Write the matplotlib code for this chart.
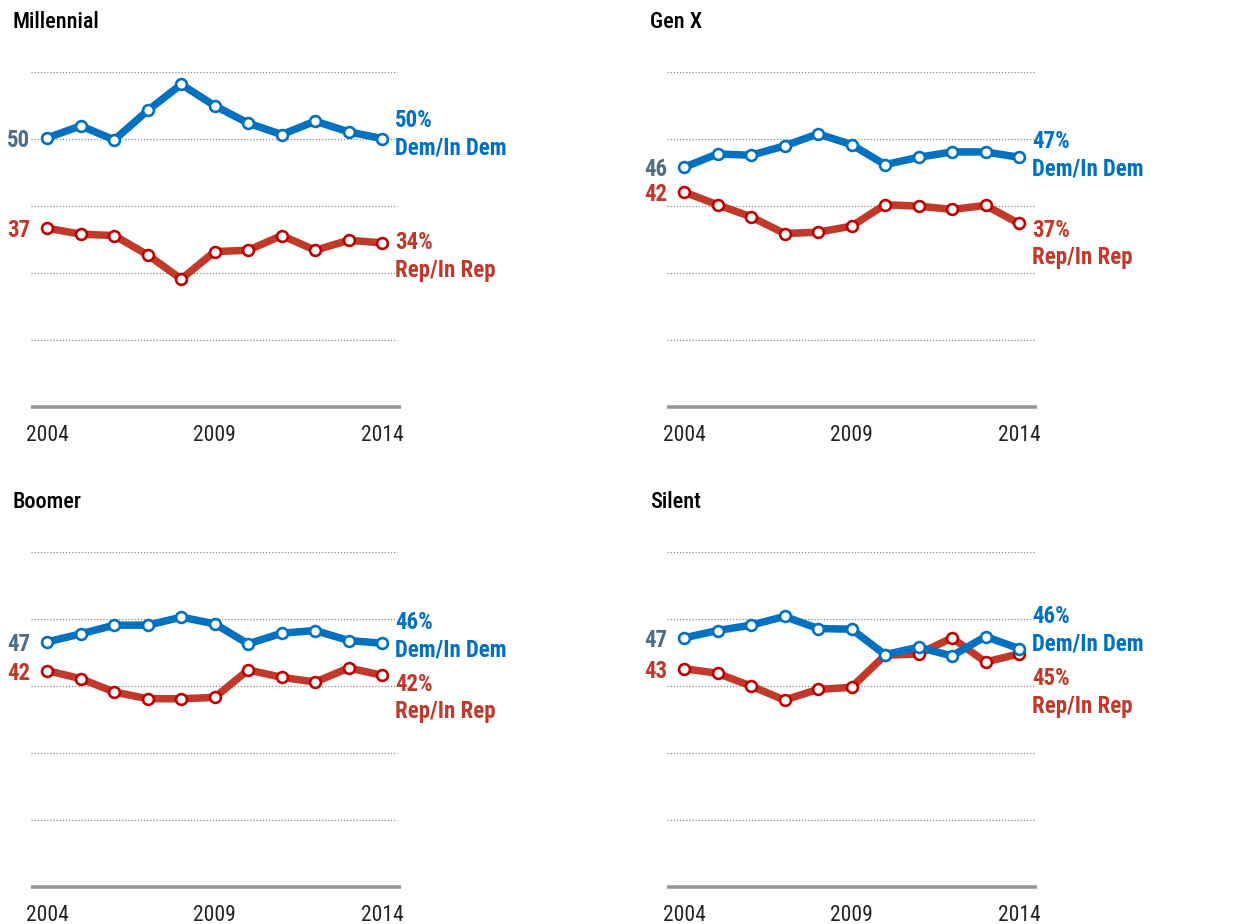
import matplotlib
matplotlib.use("Agg")
import matplotlib.pyplot as plt

plt.rcParams['font.family'] = ['Roboto Condensed', 'DejaVu Sans']

years = list(range(2004, 2015))

panel_titles = ['Millennial', 'Gen X', 'Boomer', 'Silent']

millennial_dem = [50.2, 52.0, 49.9, 54.3, 58.2, 55.0, 52.4, 50.7, 52.7, 51.1, 50.1]
millennial_rep = [36.7, 35.8, 35.6, 32.7, 29.1, 33.2, 33.4, 35.6, 33.4, 34.9, 34.5]

genx_dem = [45.8, 47.8, 47.6, 49.0, 50.8, 49.2, 46.2, 47.3, 48.1, 48.1, 47.3]
genx_rep = [42.1, 40.2, 38.4, 35.9, 36.1, 37.0, 40.2, 40.0, 39.5, 40.1, 37.4]

boomer_dem = [46.6, 47.8, 49.1, 49.1, 50.3, 49.3, 46.3, 47.9, 48.3, 46.8, 46.4]
boomer_rep = [42.3, 41.1, 39.1, 38.1, 38.1, 38.3, 42.4, 41.3, 40.6, 42.7, 41.6]

silent_dem = [47.2, 48.3, 49.1, 50.4, 48.6, 48.5, 44.7, 45.8, 44.5, 47.4, 45.6]
silent_rep = [42.6, 41.9, 40.0, 37.9, 39.5, 39.8, 44.6, 44.8, 47.2, 43.6, 44.8]

# labels shown at the start and end of each line
start_dem_labels = ['50', '46', '47', '47']
start_rep_labels = ['37', '42', '42', '43']
end_dem_labels = ['50%', '47%', '46%', '46%']
end_rep_labels = ['34%', '37%', '42%', '45%']

dem_series = [millennial_dem, genx_dem, boomer_dem, silent_dem]
rep_series = [millennial_rep, genx_rep, boomer_rep, silent_rep]

# vertical pixel offsets (centre of the % line) of the end labels from the last point
dem_label_shift = [19, 17, 22, 33]
rep_label_shift = [1, -6, -8, -24]

grid_values = [60, 50, 40, 30, 20]

DEM = '#0070c0'
REP = '#c0392b'
REP_EDGE = '#c00000'
SLATE = '#4f6d87'

fig = plt.figure(figsize=(12.5, 9.24), dpi=100)

# axes rectangles in figure fractions
lefts = [0.0244, 0.5338, 0.0244, 0.5338]
bottoms = [0.5598, 0.5598, 0.0404, 0.0404]
width = 0.2948
height = 0.3619

for i in range(4):
    ax = fig.add_axes([lefts[i], bottoms[i], width, height])
    ax.set_xlim(2003.5, 2014.5)
    ax.set_ylim(10, 60)
    for s in ax.spines.values():
        s.set_visible(False)
    ax.set_yticks([])
    ax.set_xticks([2004, 2009, 2014])
    ax.set_xticklabels(['2004', '2009', '2014'], fontsize=15.5, color='#222222')
    ax.tick_params(axis='x', length=0, pad=13)

    for g in grid_values:
        ax.axhline(g, color='#8a8a8a', lw=0.9, ls=(0, (1, 1.5)), xmax=0.995, zorder=1)
    ax.plot([2003.5, 2014.55], [10, 10], color='#999999', lw=2.6, clip_on=False, zorder=1,
            solid_capstyle='butt')

    ax.plot(years, rep_series[i], color=REP, lw=5.4, zorder=3, solid_joinstyle='miter',
            marker='o', markersize=7.8, markerfacecolor='white', markeredgecolor=REP_EDGE,
            markeredgewidth=1.9, clip_on=False)
    ax.plot(years, dem_series[i], color=DEM, lw=5.4, zorder=4, solid_joinstyle='miter',
            marker='o', markersize=7.8, markerfacecolor='white', markeredgecolor=DEM,
            markeredgewidth=1.9, clip_on=False)

    # start labels
    ax.annotate(start_dem_labels[i], xy=(2004, dem_series[i][0]), xytext=(-17, 0),
                textcoords='offset pixels', ha='right', va='center_baseline', fontsize=16.5,
                fontweight='bold', color=SLATE)
    ax.annotate(start_rep_labels[i], xy=(2004, rep_series[i][0]), xytext=(-17, 0),
                textcoords='offset pixels', ha='right', va='center_baseline', fontsize=16.5,
                fontweight='bold', color=REP)

    # end labels: percentage line, then party line underneath
    d_end = (2014, dem_series[i][-1])
    r_end = (2014, rep_series[i][-1])
    ax.annotate(end_dem_labels[i], xy=d_end, xytext=(13, dem_label_shift[i] - 7.5),
                textcoords='offset pixels', ha='left', va='baseline', fontsize=16.5,
                fontweight='bold', color=DEM, annotation_clip=False)
    ax.annotate('Dem/In Dem', xy=d_end, xytext=(13, dem_label_shift[i] - 35),
                textcoords='offset pixels', ha='left', va='baseline', fontsize=16.5,
                fontweight='bold', color=DEM, annotation_clip=False)
    ax.annotate(end_rep_labels[i], xy=r_end, xytext=(13, rep_label_shift[i] - 7.5),
                textcoords='offset pixels', ha='left', va='baseline', fontsize=16.5,
                fontweight='bold', color=REP, annotation_clip=False)
    ax.annotate('Rep/In Rep', xy=r_end, xytext=(13, rep_label_shift[i] - 35),
                textcoords='offset pixels', ha='left', va='baseline', fontsize=16.5,
                fontweight='bold', color=REP, annotation_clip=False)

# panel titles
title_x = [13 / 1250, 650 / 1250, 13 / 1250, 650 / 1250]
title_y = [1 - 28 / 924, 1 - 28 / 924, 1 - 508 / 924, 1 - 508 / 924]
for i in range(4):
    fig.text(title_x[i], title_y[i], panel_titles[i], fontsize=16, color='black',
             fontweight='medium', ha='left', va='baseline')

fig.savefig('out.png', dpi=100)
